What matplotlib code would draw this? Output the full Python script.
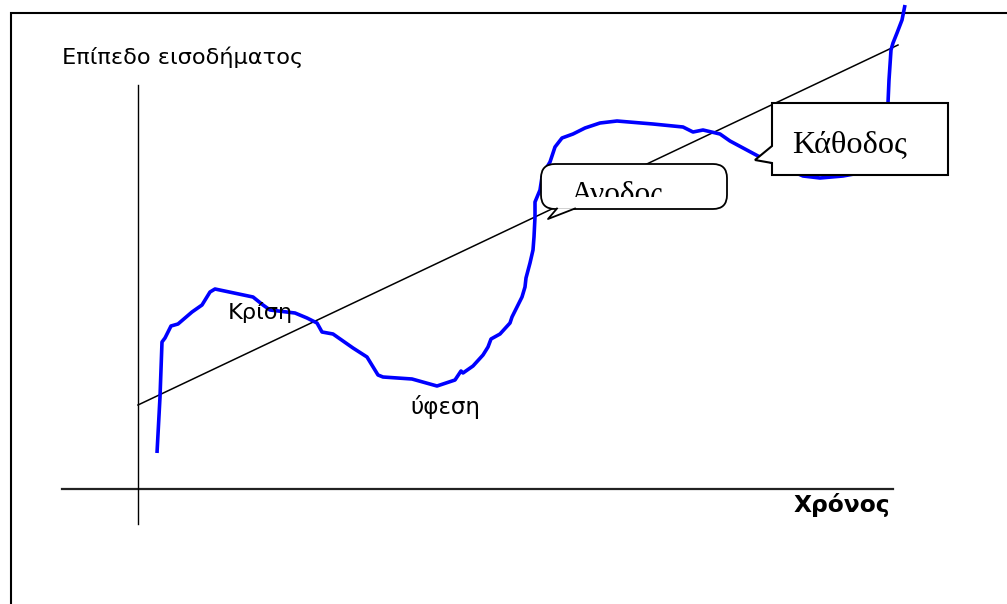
import matplotlib
matplotlib.use("Agg")
import matplotlib.pyplot as plt
from matplotlib.patches import FancyBboxPatch, Polygon, Rectangle

# ---- data (time, income) with origin at the axes crossing ----
curve_t = [19, 22, 24, 27, 31, 33, 40, 54, 64, 72, 77, 115, 125, 132, 157, 169, 179, 184,
           195, 215, 229, 240, 245, 274, 299, 317, 323, 325, 335, 345, 350, 353, 362,
           372, 374, 384, 387, 388, 392, 395, 396, 397, 397, 402, 404, 409, 412, 417,
           424, 435, 447, 462, 479, 515, 545, 555, 565, 582, 592, 620, 642, 665, 682,
           705, 727, 744, 749, 750, 751, 753, 755, 759, 764, 767]
curve_y = [36, 92, 147, 151, 159, 163, 165, 177, 184, 197, 200, 192, 184, 179, 176, 171,
           166, 157, 155, 141, 132, 114, 112, 110, 103, 109, 118, 116, 123, 134, 142,
           150, 155, 166, 172, 192, 202, 211, 226, 239, 252, 272, 287, 299, 312, 322,
           327, 342, 351, 355, 361, 366, 368, 365, 362, 357, 359, 355, 348, 333, 323,
           313, 311, 313, 317, 329, 349, 386, 409, 439, 446, 456, 469, 484]

trend_t = [0, 760]
trend_y = [84, 444]

y_label = "Επίπεδο εισοδήματος"
x_label = "Χρόνος"
phase_labels = ["Κρίση", "ύφεση", "Ανοδος", "Κάθοδος"]

# ---- figure: axes span the whole canvas, 1 unit = 1 pixel ----
W, H = 1007, 604
X0, Y0 = 138, 489  # pixel position of the origin
fig = plt.figure(figsize=(W / 100, H / 100), dpi=100)
ax = fig.add_axes([0, 0, 1, 1])
ax.set_xlim(-X0, W - X0)
ax.set_ylim(Y0 - H, Y0)
ax.axis("off")

def px(x, y):
    return x - X0, Y0 - y

# outer frame (clipped at right and bottom)
ax.plot(*zip(px(11, 700), px(11, 13), px(1100, 13)), color="black", lw=1.5,
        solid_joinstyle="miter", zorder=1)

# axes lines
ax.plot([px(62, 0)[0], px(893, 0)[0]], [0, 0], color="#222222", lw=1.6, zorder=2)
ax.plot([0, 0], [px(0, 85)[1], px(0, 524)[1]], color="black", lw=1.0, zorder=2)

# trend line and income curve
ax.plot(trend_t, trend_y, color="black", lw=1.1, zorder=3)
ax.plot(curve_t, curve_y, color="#0000ff", lw=2.6, solid_capstyle="butt",
        solid_joinstyle="round", zorder=4)

sans = ["DejaVu Sans"]
serif = ["Liberation Serif", "DejaVu Serif"]

# texts
ax.text(*px(62, 64), y_label, fontsize=16.2, family=sans, ha="left",
        va="baseline", zorder=6)
ax.text(*px(890, 512), x_label, fontsize=16.8, family=sans, weight="bold",
        ha="right", va="baseline", zorder=6)
ax.text(*px(228, 319), phase_labels[0], fontsize=16.2, family=sans,
        ha="left", va="baseline", zorder=6)
ax.text(*px(410, 414), phase_labels[1], fontsize=16.6, family=sans,
        ha="left", va="baseline", zorder=6)

# "Ανοδος" rounded callout
bx0, by0 = px(541, 209)
bx1, by1 = px(727, 164)
box = FancyBboxPatch((bx0, by0), bx1 - bx0, by1 - by0,
                     boxstyle="round,pad=0,rounding_size=14",
                     fc="white", ec="black", lw=1.3, zorder=5)
ax.add_patch(box)
tail = Polygon([px(557, 208.2), px(548, 219), px(575, 208.2)], closed=True,
               fc="white", ec="none", zorder=5)
ax.add_patch(tail)
ax.plot(*zip(px(557, 208.5), px(548, 219), px(575, 208.5)), color="black",
        lw=1.3, zorder=5.1)
t1 = ax.text(*px(571, 202), phase_labels[2], fontsize=22.5, family=serif,
             ha="left", va="baseline", zorder=6)
clip = Rectangle((bx0, px(0, 197)[1]), bx1 - bx0, 40, transform=ax.transData)
t1.set_clip_path(clip)
t1.set_clip_on(True)

# "Κάθοδος" rectangular callout
rect = Polygon([px(772, 103), px(948, 103), px(948, 175), px(772, 175),
                px(772, 163), px(755, 160), px(772, 146)], closed=True,
               fc="white", ec="black", lw=1.5, joinstyle="miter", zorder=5)
ax.add_patch(rect)
ax.text(*px(792, 152), phase_labels[3], fontsize=23.2, family=serif,
        ha="left", va="baseline", zorder=6)

fig.savefig("out.png", dpi=100, facecolor="white")
